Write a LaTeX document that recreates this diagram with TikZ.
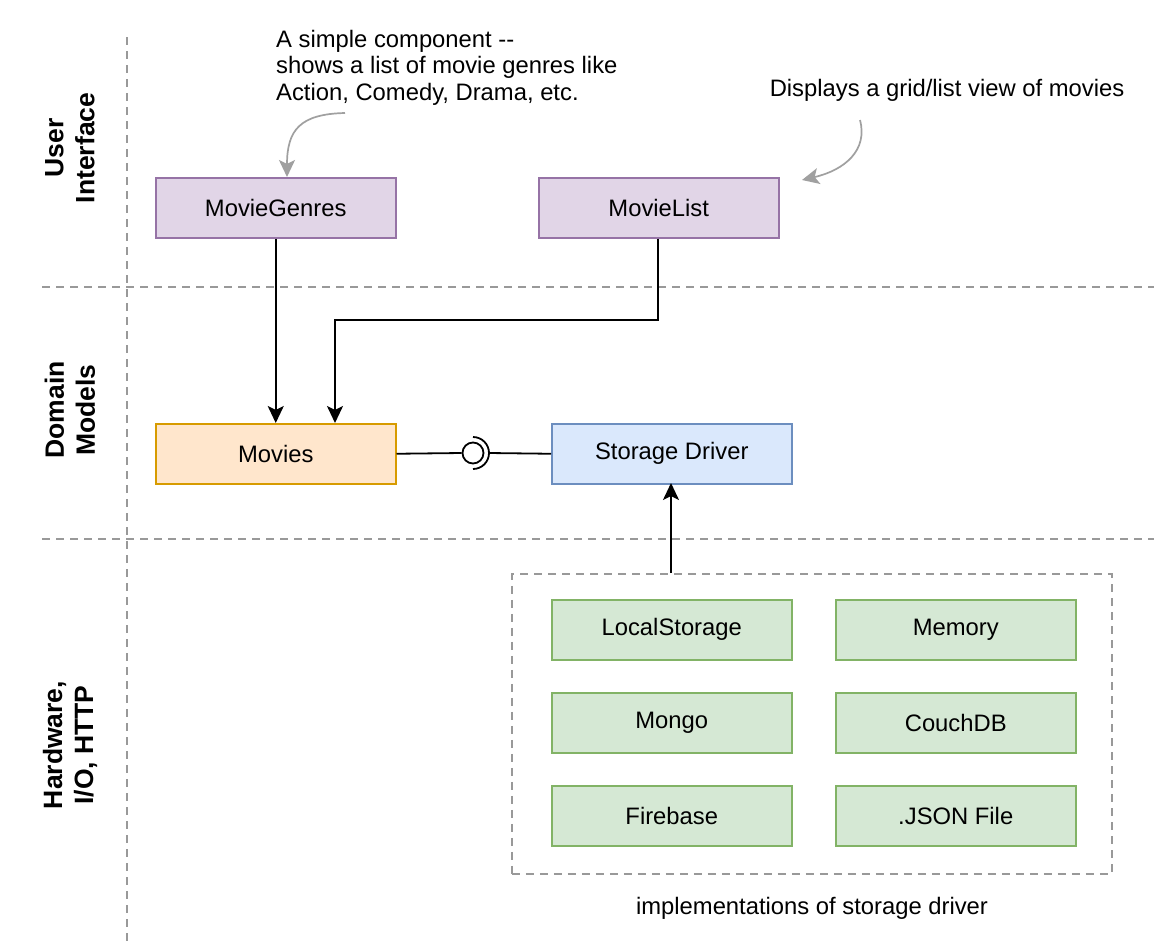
\documentclass[tikz,border=0pt]{standalone}
\usepackage{fontspec}
\setmainfont{Liberation Sans}
\usetikzlibrary{arrows.meta}
\definecolor{uifill}{HTML}{E1D5E7}
\definecolor{uidraw}{HTML}{9673A6}
\definecolor{orfill}{HTML}{FFE6CC}
\definecolor{ordraw}{HTML}{D79B00}
\definecolor{blfill}{HTML}{DAE8FC}
\definecolor{bldraw}{HTML}{6C8EBF}
\definecolor{grfill}{HTML}{D5E8D4}
\definecolor{grdraw}{HTML}{82B366}
\definecolor{dashgray}{HTML}{999999}
\definecolor{notegray}{HTML}{A0A0A0}
\tikzset{
  txt/.style={font=\fontsize{23.8}{26.5}\selectfont},
  box/.style={txt, draw, line width=1.5pt, minimum width=240pt, minimum height=60pt, inner sep=0pt, anchor=north west},
  uibox/.style={box, fill=uifill, draw=uidraw},
  orbox/.style={box, fill=orfill, draw=ordraw},
  blbox/.style={box, fill=blfill, draw=bldraw},
  grbox/.style={box, fill=grfill, draw=grdraw},
  sep/.style={draw=dashgray, line width=1.5pt, dash pattern=on 8pt off 6pt},
  layer/.style={font=\fontsize{26.5}{31}\selectfont\bfseries, rotate=90, align=center},
  conn/.style={line width=2pt, -{Stealth[length=17pt, width=16pt, inset=4pt]}},
  note/.style={line width=1.7pt, draw=notegray, -{Stealth[length=17pt, width=16pt, inset=4pt]}},
}
\begin{document}
\begin{tikzpicture}[x=1pt, y=-1pt]
\useasboundingbox (0,0) rectangle (1154,946);
\fill[white] (0,0) rectangle (1154,946);
% separators
\coordinate (vtop) at (127,37);
\coordinate (vbot) at (127,946);
\coordinate (h1l) at (42,287);
\coordinate (h1r) at (1154,287);
\coordinate (h2l) at (42,539);
\coordinate (h2r) at (1154,539);
\draw[sep] (vtop) -- (vbot);
\draw[sep] (h1l) -- (h1r);
\draw[sep] (h2l) -- (h2r);
% layer labels
\node[layer] (lui) at (70,148) {User\\Interface};
\node[layer] (ldm) at (70,410) {Domain\\Models};
\node[layer] (lhw) at (70,745) {Hardware,\\I/O, HTTP};
% group box
\node[draw=dashgray, line width=1.5pt, dash pattern=on 8pt off 6pt, minimum width=600pt, minimum height=300pt, anchor=north west, inner sep=0pt] (grp) at (511,573) {};
% boxes
\node[uibox] (mg) at (155,177) {MovieGenres};
\node[uibox] (ml) at (538,177) {MovieList};
\node[orbox] (mv) at (155,423) {Movies};
\node[blbox] (sd) at (551,423) {Storage Driver};
\node[grbox] (ls) at (551,599) {LocalStorage};
\node[grbox] (mem) at (835,599) {Memory};
\node[grbox] (mon) at (551,692) {Mongo};
\node[grbox] (cdb) at (835,692) {CouchDB};
\node[grbox] (fb) at (551,785) {Firebase};
\node[grbox] (js) at (835,785) {.JSON File};
\node[txt] (impl) at (812,908) {implementations of storage driver};
% annotations
\node[txt, align=left, anchor=north west, inner sep=0pt] (n1) at (276,30) {A simple component -{}-\\shows a list of movie genres like\\Action, Comedy, Drama, etc.};
\node[txt] (n2) at (947,90) {Displays a grid/list view of movies};
\coordinate (n1s) at (345,113);
\coordinate (n2s) at (860,120);
\draw[note] (n1s) .. controls (300,114) and (287,130) .. (mg.north -| 287,0);
\coordinate (mlnote) at (802,180);
\draw[note] (n2s) .. controls (868,150) and (845,170) .. (mlnote);
% connectors
\draw[conn] (mg.south) -- (mv.north);
\coordinate (mvin) at (335,423);
\draw[conn] (ml.south -| 658,0) |- (335,320) -- (mvin);
\coordinate (sdin) at (671,483);
\draw[conn] (grp.north -| sdin) -- (sdin);
% lollipop
\coordinate (lol) at (473,453);
\node[draw, circle, line width=1.8pt, minimum size=21pt, inner sep=0pt, fill=white] (ball) at (lol) {};
\draw[line width=1.8pt] (mv.east) -- (ball.west);
\draw[line width=1.8pt] ([shift={(0,-16)}]lol) arc[start angle=90, end angle=-90, radius=16pt];
\draw[line width=1.8pt] (489,453) -- (sd.west);
\end{tikzpicture}
\end{document}
